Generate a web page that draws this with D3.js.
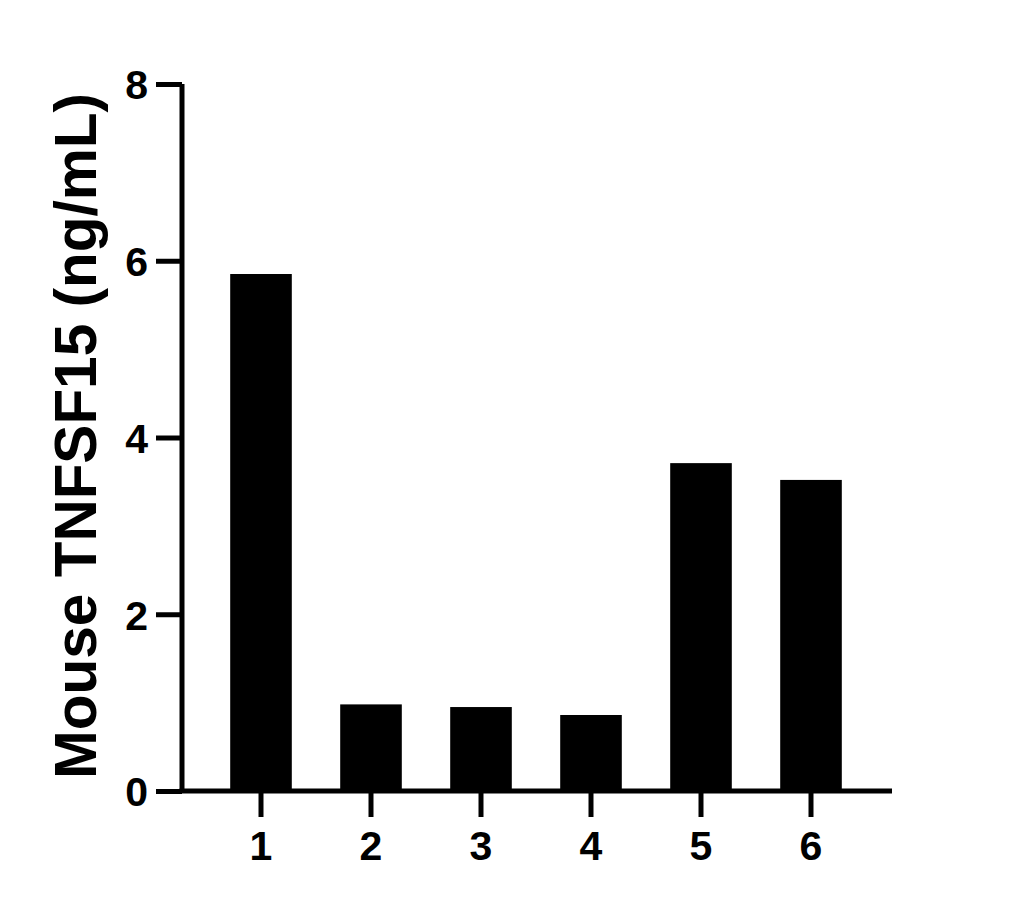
<!DOCTYPE html>
<html>
<head>
<meta charset="utf-8">
<script src="https://cdn.jsdelivr.net/npm/d3@7"></script>
<style>
  html, body { margin: 0; padding: 0; background: #fff; }
  svg { display: block; }
</style>
</head>
<body>
<svg id="chart" width="1028" height="908"></svg>
<script>
const categories = ["1", "2", "3", "4", "5", "6"];
const values = [5.85, 0.98, 0.95, 0.86, 3.71, 3.52];
const yTicks = [0, 2, 4, 6, 8];
const yLabel = "Mouse TNFSF15 (ng/mL)";

const svg = d3.select("#chart");
const font = "'Liberation Sans', Arial, sans-serif";

const x0 = 182, x1 = 892, yTop = 84, yBot = 791;

const y = d3.scaleLinear().domain([0, 8]).range([yBot, yTop]);
const x = d3.scaleBand().domain(categories).range([206, 866]).paddingInner(0.44).paddingOuter(0.22);

// bars
svg.append("g").selectAll("rect").data(values).join("rect")
  .attr("x", (d, i) => x(categories[i]))
  .attr("width", x.bandwidth())
  .attr("y", d => y(d))
  .attr("height", d => yBot - y(d))
  .attr("fill", "#000");

// y axis
const yAxis = svg.append("g").attr("transform", `translate(${x0},0)`)
  .call(d3.axisLeft(y).tickValues(yTicks).tickSize(26).tickPadding(8).tickSizeOuter(0));
yAxis.select(".domain").attr("stroke", "#000").attr("stroke-width", 5)
  .attr("d", `M0,${yTop}V${yBot + 2}`);
yAxis.selectAll(".tick line").attr("stroke", "#000").attr("stroke-width", 5);
yAxis.selectAll(".tick text").attr("font-family", font).attr("font-weight", "bold")
  .attr("font-size", 41).attr("fill", "#000").attr("dy", "0.36em");

// x axis
const xAxis = svg.append("g").attr("transform", `translate(0,${yBot})`)
  .call(d3.axisBottom(x).tickSize(26).tickPadding(14).tickSizeOuter(0));
xAxis.select(".domain").attr("stroke", "#000").attr("stroke-width", 5)
  .attr("d", `M${x0 - 2.5},0H${x1}`);
xAxis.selectAll(".tick line").attr("stroke", "#000").attr("stroke-width", 5);
xAxis.selectAll(".tick text").attr("font-family", font).attr("font-weight", "bold")
  .attr("font-size", 41).attr("fill", "#000");

// y label
svg.append("text")
  .attr("transform", `translate(96,436) rotate(-90)`)
  .attr("text-anchor", "middle")
  .attr("font-family", font).attr("font-weight", "bold").attr("font-size", 58.5)
  .attr("fill", "#000")
  .text(yLabel);
</script>
</body>
</html>
